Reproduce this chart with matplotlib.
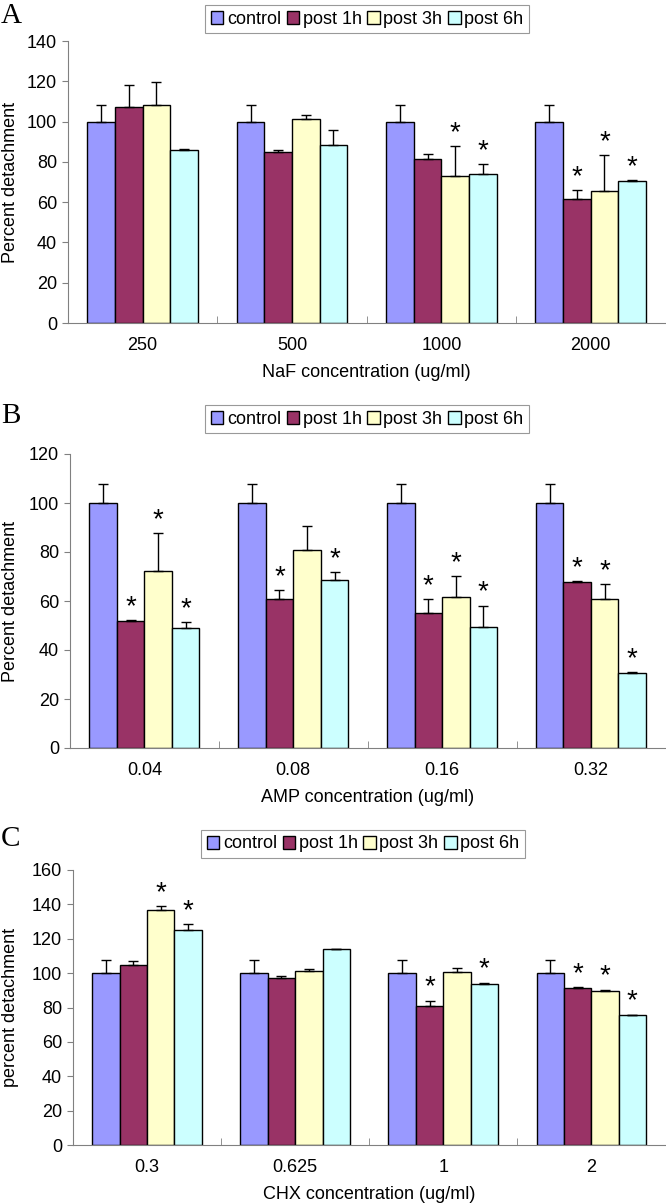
import matplotlib
matplotlib.use("Agg")
from matplotlib import pyplot as plt
import numpy as np

plt.rcParams['font.family'] = ['Liberation Sans', 'DejaVu Sans']

series = ["control", "post 1h", "post 3h", "post 6h"]
colors = ["#9999FF", "#993366", "#FFFFCC", "#CCFFFF"]

# panel A - NaF
naf_groups = ["250", "500", "1000", "2000"]
naf_mean = [[100, 100, 100, 100],
            [107, 85.1, 81.6, 61.5],
            [108.1, 101.3, 72.9, 65.5],
            [86, 88.4, 74.2, 70.4]]
naf_err = [[8, 8, 8, 8],
           [11, 0.9, 2.4, 4.5],
           [11.6, 1.8, 15, 18],
           [0.6, 7.6, 4.6, 0.5]]
naf_sig = [[0, 0, 0, 0],
           [0, 0, 0, 1],
           [0, 0, 1, 1],
           [0, 0, 1, 1]]

# panel B - AMP
amp_groups = ["0.04", "0.08", "0.16", "0.32"]
amp_mean = [[100, 100, 100, 100],
            [51.8, 61, 55.3, 67.7],
            [72.2, 80.8, 61.8, 61],
            [48.8, 68.4, 49.5, 30.6]]
amp_err = [[7.8, 7.8, 7.8, 7.8],
           [0.4, 3.3, 5.4, 0.4],
           [15.4, 9.8, 8.4, 6.0],
           [2.6, 3.5, 8.6, 0.4]]
amp_sig = [[0, 0, 0, 0],
           [1, 1, 1, 1],
           [1, 0, 1, 1],
           [1, 1, 1, 1]]

# panel C - CHX
chx_groups = ["0.3", "0.625", "1", "2"]
chx_mean = [[100, 100, 100, 100],
            [104.8, 97.1, 80.6, 91.2],
            [136.6, 101.2, 100.6, 89.6],
            [125.2, 113.8, 93.6, 75.6]]
chx_err = [[7.5, 7.5, 7.5, 7.5],
           [2.3, 1.4, 3.4, 0.6],
           [2.3, 1.3, 2.1, 0.8],
           [3.5, 0.5, 0.9, 0.3]]
chx_sig = [[0, 0, 0, 0],
           [0, 0, 1, 1],
           [1, 0, 0, 1],
           [1, 0, 1, 1]]

FS = 13


def bar_panel(ax, groups, means, errs, sigs, ymax, ystep, xlabel, ylabel):
    x = np.arange(len(groups))
    w = 0.185
    for i in range(len(series)):
        pos = x + (i - 1.5) * w
        m = np.array(means[i])
        e = np.array(errs[i])
        ax.bar(pos, m, w, color=colors[i], edgecolor="black", linewidth=1,
               label=series[i], zorder=2)
        ax.errorbar(pos, m, yerr=[np.zeros_like(e), e], fmt="none",
                    ecolor="black", elinewidth=1, capsize=3.5, capthick=1, zorder=3)
        for j in range(len(groups)):
            if sigs[i][j]:
                ax.annotate("*", (pos[j], m[j] + e[j]), xytext=(0, 0),
                            textcoords="offset points", ha="center", va="bottom",
                            fontsize=20)
    ax.set_xlim(-0.5, len(groups) - 0.5)
    ax.set_ylim(0, ymax)
    ax.set_yticks(np.arange(0, ymax + 1, ystep))
    ax.set_xticks(x, groups)
    ax.set_xticks(np.arange(0.5, len(groups) - 0.5), minor=True)
    ax.tick_params(axis="x", which="major", length=0, pad=10, labelsize=FS)
    ax.tick_params(axis="x", which="minor", direction="in", length=5, color="#808080")
    ax.tick_params(axis="y", length=4, color="#808080", labelsize=FS, pad=4)
    for s in ["top", "right"]:
        ax.spines[s].set_visible(False)
    for s in ["left", "bottom"]:
        ax.spines[s].set_color("#808080")
    ax.set_xlabel(xlabel, fontsize=FS, labelpad=7)
    ax.set_ylabel(ylabel, fontsize=FS)


fig = plt.figure(figsize=(6.66, 12.03), dpi=100)
H = 1203.0
W = 666.0

panels = [
    (68, 41, 323, naf_groups, naf_mean, naf_err, naf_sig, 140, 20,
     "NaF concentration (ug/ml)", "Percent detachment", "A", 16, 367, 19),
    (70, 454, 748, amp_groups, amp_mean, amp_err, amp_sig, 120, 20,
     "AMP concentration (ug/ml)", "Percent detachment", "B", 416, 367, 419),
    (73, 870, 1145, chx_groups, chx_mean, chx_err, chx_sig, 160, 20,
     "CHX concentration (ug/ml)", "percent detachment", "C", 839, 363, 844),
]

for (left, top, bottom, groups, means, errs, sigs, ymax, ystep, xl, yl,
     letter, ly, legx, legy) in panels:
    ax = fig.add_axes([left / W, 1 - bottom / H, 0.999 - left / W, (bottom - top) / H])
    bar_panel(ax, groups, means, errs, sigs, ymax, ystep, xl, yl)
    ax.yaxis.set_label_coords(19 / W, 1 - (top + bottom) / 2 / H, transform=fig.transFigure)
    fig.text(1 / W, 1 - ly / H, letter, fontsize=21, family="Liberation Serif",
             ha="left", va="center")
    leg = ax.legend(loc="center", bbox_to_anchor=(legx / W, 1 - legy / H),
                    bbox_transform=fig.transFigure, ncol=4, frameon=True,
                    fancybox=False, edgecolor="#808080", fontsize=FS,
                    handlelength=0.7, handleheight=0.7, handletextpad=0.2,
                    columnspacing=0.3, borderpad=0.3, borderaxespad=0)
    leg.get_frame().set_linewidth(0.8)

fig.savefig("out.png", dpi=100)
